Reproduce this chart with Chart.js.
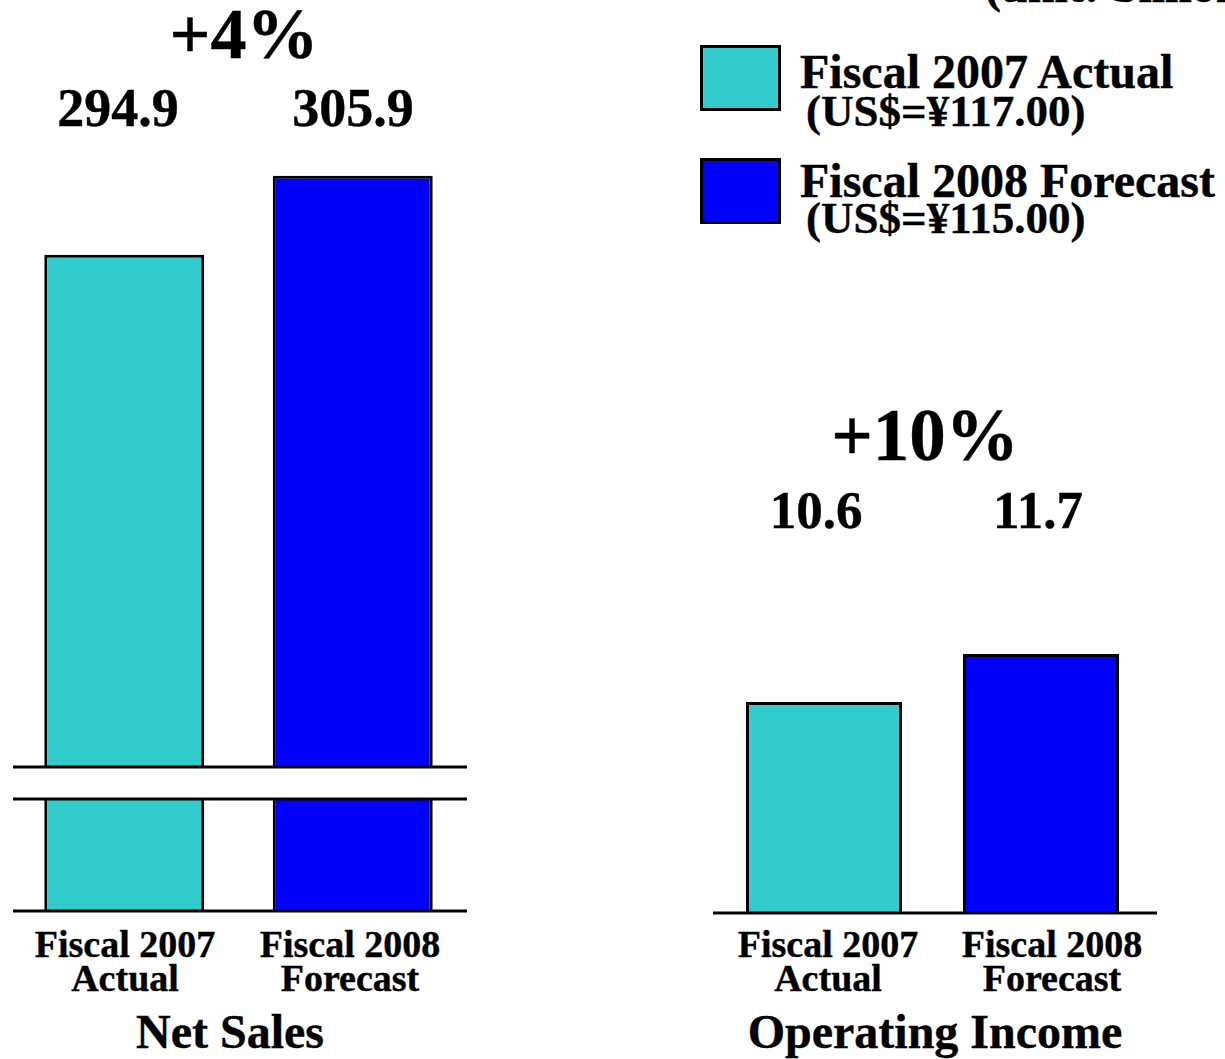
<!DOCTYPE html>
<html>
<head>
<meta charset="utf-8">
<script src="https://cdn.jsdelivr.net/npm/chart.js@4/dist/chart.umd.min.js"></script>
<style>
  html, body { margin: 0; padding: 0; background: #fff; }
  body { width: 1225px; height: 1059px; position: relative; overflow: hidden; }
  canvas { position: absolute; }
  .t { position: absolute; white-space: nowrap; font-family: "Liberation Serif", "Times New Roman", serif; font-weight: bold; color: #000; -webkit-text-stroke: 0.4px #000; }
  .box { position: absolute; box-sizing: border-box; border: 3px solid #000; }
</style>
</head>
<body>
<canvas id="nsUpper" width="457" height="623" style="left:10px;top:147px"></canvas>
<canvas id="nsLower" width="457" height="118" style="left:10px;top:796px"></canvas>
<canvas id="oi" width="444" height="319" style="left:713px;top:597px"></canvas>
<script>
// ---- data ----
const categories = [["Fiscal 2007", "Actual"], ["Fiscal 2008", "Forecast"]];
const seriesLabels = ["Fiscal 2007 Actual", "Fiscal 2008 Forecast"];
const exchangeRates = ["(US$=\u00A5117.00)", "(US$=\u00A5115.00)"];
const seriesColors = ["#33CCCC", "#0000FF"];
const netSales = [294.9, 305.9];
const operatingIncome = [10.6, 11.7];
const growthLabels = ["+4%", "+10%"];
const panelTitles = ["Net Sales", "Operating Income"];
const unitLabel = "(unit: billion yen)";
// axis ranges (broken axis for net sales)
const netSalesUpperRange = [223.6, 309.5];
const netSalesLowerRange = [0, 15.6];
const opIncomeRange = [5.76, 12.94];

// ---- plugin: horizontal axis / break lines across the panel ----
const axisLines = {
  id: 'axisLines',
  afterDatasetsDraw(chart, args, opts) {
    const ctx = chart.ctx, a = chart.chartArea;
    ctx.save();
    ctx.strokeStyle = '#000';
    ctx.lineWidth = 3;
    (opts.at || []).forEach(pos => {
      const y = pos === 'top' ? a.top : a.bottom;
      ctx.beginPath();
      ctx.moveTo(opts.from || 0, y);
      ctx.lineTo(chart.width, y);
      ctx.stroke();
    });
    ctx.restore();
  }
};

function barChart(id, values, range, lines, pad, barPct, lineFrom, clip) {
  const ds = {
    data: values,
    backgroundColor: seriesColors,
    borderColor: '#000',
    borderWidth: 3,
    barPercentage: barPct,
    categoryPercentage: 1.0
  };
  if (clip) ds.clip = clip;
  return new Chart(document.getElementById(id), {
    type: 'bar',
    data: { labels: categories.map(c => c.join(' ')), datasets: [ds] },
    options: {
      responsive: false,
      animation: false,
      devicePixelRatio: 1,
      layout: { padding: { top: 3, bottom: 3, left: pad[0], right: pad[1] } },
      plugins: { legend: { display: false }, tooltip: { enabled: false }, axisLines: { at: lines, from: lineFrom } },
      scales: {
        x: { display: false },
        y: { display: false, min: range[0], max: range[1] }
      }
    },
    plugins: [axisLines]
  });
}

barChart('nsUpper', netSales, netSalesUpperRange, ['bottom'], [0, 0], 0.70, 3);
barChart('nsLower', netSales, netSalesLowerRange, ['top', 'bottom'], [0, 0], 0.70, 3, { top: 0, bottom: 6, left: 6, right: 6 });
barChart('oi', operatingIncome, opIncomeRange, ['bottom'], [2.5, 7.5], 0.719, 0);

// ---- text ----
function txt(str, x, baseline, size, align) {
  const d = document.createElement('div');
  d.className = 't';
  d.textContent = str;
  d.style.fontSize = size + 'px';
  d.style.lineHeight = size + 'px';
  d.style.top = (baseline - 0.8375 * size) + 'px';
  d.style.left = x + 'px';
  if (align !== 'left') d.style.transform = 'translateX(-50%)';
  document.body.appendChild(d);
}
function box(x, y, w, h, color) {
  const d = document.createElement('div');
  d.className = 'box';
  Object.assign(d.style, { left: x + 'px', top: y + 'px', width: w + 'px', height: h + 'px', background: color });
  document.body.appendChild(d);
}

// Net Sales panel
txt(growthLabels[0], 244, 58, 72);
txt(netSales[0].toFixed(1), 118, 126, 54);
txt(netSales[1].toFixed(1), 353, 126, 54);
txt(categories[0][0], 125, 957, 38); txt(categories[0][1], 125, 991, 38);
txt(categories[1][0], 350, 957, 38); txt(categories[1][1], 350, 991, 38);
txt(panelTitles[0], 230, 1048, 48);

// Operating Income panel
txt(growthLabels[1], 925, 460, 73);
txt(operatingIncome[0].toFixed(1), 816, 528, 53);
txt(operatingIncome[1].toFixed(1), 1038, 528, 53);
txt(categories[0][0], 828, 957, 38); txt(categories[0][1], 828, 991, 38);
txt(categories[1][0], 1052, 957, 38); txt(categories[1][1], 1052, 991, 38);
txt(panelTitles[1], 935, 1048, 48);

// Legend
box(700, 45, 81, 66, seriesColors[0]);
box(700, 158, 81, 66, seriesColors[1]);
txt(seriesLabels[0], 800, 88, 48, 'left');
txt(exchangeRates[0], 806, 127, 45, 'left');
txt(seriesLabels[1], 800, 197, 48, 'left');
txt(exchangeRates[1], 806, 234, 45, 'left');

// Unit label (cut at top edge)
txt(unitLabel, 985, 2, 48, 'left');
</script>
</body>
</html>
